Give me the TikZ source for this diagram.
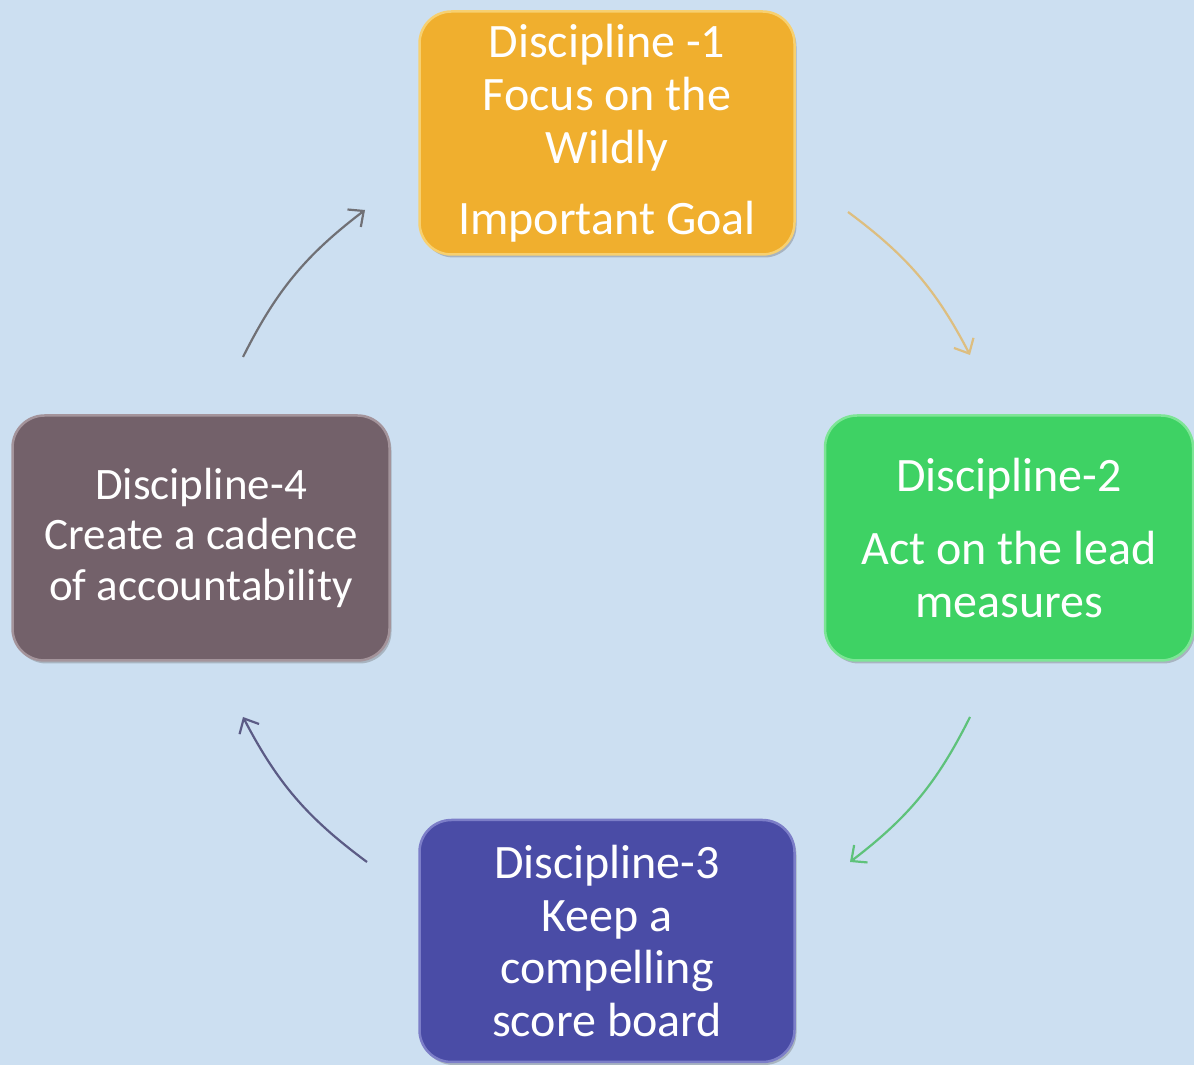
\documentclass[tikz,border=0pt]{standalone}
\usepackage{fontspec}
\setmainfont{Carlito}
\usetikzlibrary{arrows.meta,shadows}
\definecolor{bgblue}{HTML}{CCDFF1}
\definecolor{orangebox}{HTML}{F0AF2E}
\definecolor{orangeedge}{HTML}{F7D070}
\definecolor{greenbox}{HTML}{3ED264}
\definecolor{greenedge}{HTML}{7DE596}
\definecolor{bluebox}{HTML}{4A4CA6}
\definecolor{blueedge}{HTML}{7C7EC8}
\definecolor{mauvebox}{HTML}{73616A}
\definecolor{mauveedge}{HTML}{A4949B}
\definecolor{arrowtan}{HTML}{DDBE80}
\definecolor{arrowgreen}{HTML}{5EC27A}
\definecolor{arrowpurple}{HTML}{5B5B85}
\definecolor{arrowgray}{HTML}{707075}
\tikzset{
  discbox/.style={rounded corners=32pt, line width=2.5pt, text=white,
    align=center, inner sep=0pt,
    drop shadow={shadow xshift=2pt, shadow yshift=-3pt, opacity=0.35, fill=black!60}},
  cyclearrow/.style={line width=2.2pt, -{Straight Barb[length=12pt,width=22pt,line width=2.2pt]}, bend left=13}
}
\begin{document}
\begin{tikzpicture}[x=1pt,y=1pt]
\fill[bgblue] (0,0) rectangle (1194,1065);
\useasboundingbox (0,0) rectangle (1194,1065);

\node[discbox, fill=orangebox, draw=orangeedge, minimum width=375pt, minimum height=243pt,
  font=\fontsize{48}{53}\selectfont] (d1) at (607,932)
  {Discipline -1\\Focus on the\\Wildly\\[18pt]Important Goal};

\node[discbox, fill=greenbox, draw=greenedge, minimum width=368pt, minimum height=245pt,
  font=\fontsize{48}{53}\selectfont] (d2) at (1009,527)
  {Discipline-2\\[20pt]Act on the lead\\measures};

\node[discbox, fill=bluebox, draw=blueedge, minimum width=375pt, minimum height=242pt,
  font=\fontsize{48}{52.5}\selectfont] (d3) at (607,124)
  {Discipline-3\\Keep a\\compelling\\score board};

\node[discbox, fill=mauvebox, draw=mauveedge, minimum width=377pt, minimum height=245pt,
  font=\fontsize{45}{50.5}\selectfont] (d4) at (201,527)
  {Discipline-4\\Create a cadence\\of accountability};

\coordinate (a1s) at (848,853);
\coordinate (a1e) at (970,710);
\coordinate (a2s) at (970,348);
\coordinate (a2e) at (850,203);
\coordinate (a3s) at (367,203);
\coordinate (a3e) at (243,348);
\coordinate (a4s) at (243,708);
\coordinate (a4e) at (365,855);

\draw[cyclearrow, arrowtan] (a1s) to (a1e);
\draw[cyclearrow, arrowgreen] (a2s) to (a2e);
\draw[cyclearrow, arrowpurple] (a3s) to (a3e);
\draw[cyclearrow, arrowgray] (a4s) to (a4e);
\end{tikzpicture}
\end{document}
